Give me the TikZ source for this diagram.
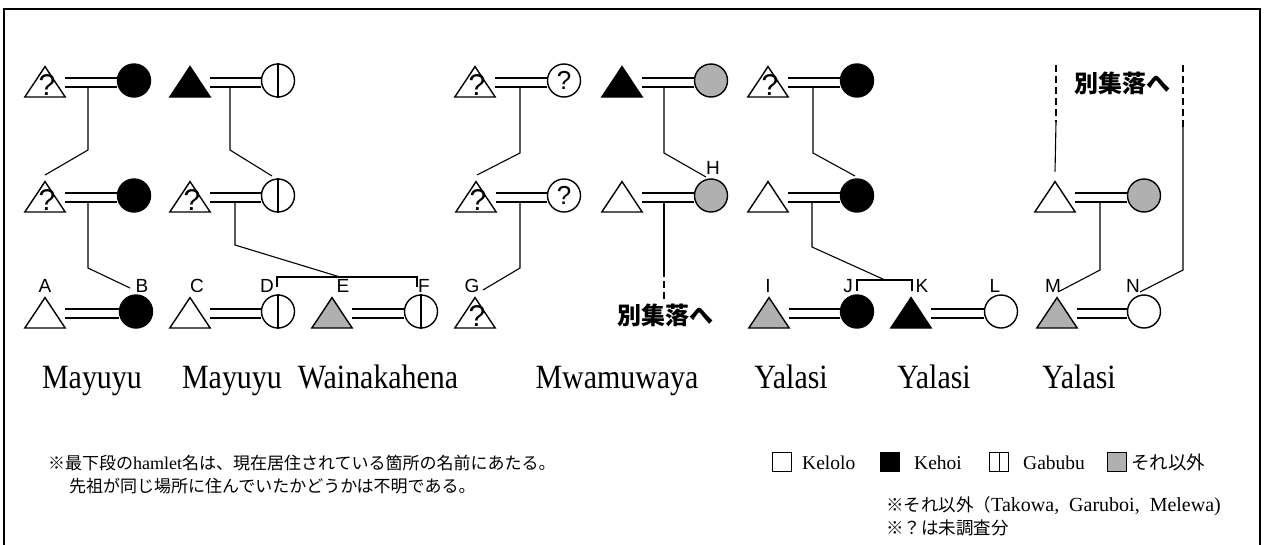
\documentclass[tikz,border=0pt]{standalone}
\usepackage{fontspec}
\setmainfont{Liberation Serif}
\newfontfamily\hamfont[FakeStretch=0.88]{Liberation Serif}
\newfontfamily\labfont{Liberation Sans}
\newfontfamily\cjk{Noto Sans CJK JP}
\usetikzlibrary{calc}
\tikzset{
  sym/.style={draw, line width=1.4pt, line join=miter},
  trinode/.style={inner sep=0pt, minimum width=40pt, minimum height=30pt, anchor=south},
  circ/.style={circle, draw, line width=1.4pt, minimum size=33pt, inner sep=0pt},
  link/.style={line width=1.1pt},
  dashlink/.style={line width=1.1pt, dash pattern=on 7pt off 4pt},
  dbl/.style={line width=1.6pt},
  qmark/.style={anchor=base, inner sep=0pt, font=\labfont\fontsize{30}{30}\selectfont},
  cqmark/.style={inner sep=0pt, font=\labfont\fontsize{26}{26}\selectfont},
  lbl/.style={inner sep=0pt, anchor=base, font=\labfont\fontsize{19}{19}\selectfont},
  hamlet/.style={inner sep=0pt, anchor=base, font=\hamfont\fontsize{34}{34}\selectfont},
  other/.style={inner sep=0pt, font=\cjk\bfseries\fontsize{24}{24}\selectfont},
  note/.style={inner sep=0pt, anchor=west, font=\cjk\fontsize{17}{17}\selectfont},
  legtext/.style={inner sep=0pt, anchor=west, font=\fontsize{19.5}{19.5}\selectfont},
  legbox/.style={draw, line width=1pt, minimum width=19pt, minimum height=19pt, inner sep=0pt},
  frame/.style={line width=1.8pt}
}
\colorlet{other}{gray!62}
\newcommand\Tri[4]{\node[trinode] (#1) at (#2,#3) {};
  \draw[sym, fill=#4] (#1.south west) -- (#1.south east) -- (#1.north) -- cycle;}
\newcommand\QTri[3]{\Tri{#1}{#2}{#3}{white}
  \node[qmark] (#1q) at ([xshift=2pt,yshift=2pt]#1.south) {?};}
\newcommand\Cir[4]{\node[circ, fill=#4] (#1) at (#2,#3) {};}
\newcommand\GCir[3]{\node[circ, fill=white] (#1) at (#2,#3) {};
  \draw[sym] (#1.north) -- (#1.south);}
\newcommand\QCir[3]{\node[circ, fill=white] (#1) at (#2,#3) {};
  \node[cqmark] (#1q) at (#1.center) {?};}
\newcommand\Marry[2]{\path ([yshift=19pt]#1.south east) coordinate (#1u)
  ([yshift=10pt]#1.south east) coordinate (#1l);
  \draw[dbl] (#1u) -- (#1u -| #2.west) (#1l) -- (#1l -| #2.west);}
\begin{document}
\begin{tikzpicture}[x=1pt,y=-1pt]
\useasboundingbox (0,0) rectangle (1265,544);
\draw[frame] (4,560) -- (4,9) -- (1260,9) -- (1260,560);

% ---------- row 1 ----------
\QTri{pa}{45}{97}      \Cir{pb}{134}{80.5}{black}   \Marry{pa}{pb}
\Tri{pc}{190}{97}{black} \GCir{pd}{278}{80.5}       \Marry{pc}{pd}
\QTri{pe}{475}{97}     \QCir{pf}{564}{80.5}         \Marry{pe}{pf}
\Tri{pg}{622}{97}{black} \Cir{ph}{711}{80.5}{other} \Marry{pg}{ph}
\QTri{pi}{768}{97}     \Cir{pj}{857}{80.5}{black}   \Marry{pi}{pj}

% ---------- row 2 ----------
\QTri{qa}{45}{212}     \Cir{qb}{134}{195.5}{black}  \Marry{qa}{qb}
\QTri{qc}{190}{212}    \GCir{qd}{278}{195.5}        \Marry{qc}{qd}
\QTri{qe}{476}{212}    \QCir{qf}{564}{195.5}        \Marry{qe}{qf}
\Tri{qg}{622}{212}{white} \Cir{qh}{711}{195.5}{other} \Marry{qg}{qh}
\Tri{qi}{768}{212}{white} \Cir{qj}{857}{195.5}{black} \Marry{qi}{qj}
\Tri{qk}{1055}{212}{white} \Cir{ql}{1144}{195.5}{other} \Marry{qk}{ql}

% ---------- row 3 ----------
\Tri{ra}{45}{328}{white}   \Cir{rb}{136}{311.5}{black}  \Marry{ra}{rb}
\Tri{rc}{190}{328}{white}  \GCir{rd}{278}{311.5}        \Marry{rc}{rd}
\Tri{re}{332}{328}{other}  \GCir{rf}{421}{311.5}        \Marry{re}{rf}
\QTri{rg}{475}{328}
\Tri{ri}{769}{328}{other}  \Cir{rj}{857}{311.5}{black}  \Marry{ri}{rj}
\Tri{rk}{911}{328}{black}  \Cir{rl}{1001}{311.5}{white} \Marry{rk}{rl}
\Tri{rm}{1057}{328}{other} \Cir{rn}{1144}{311.5}{white} \Marry{rm}{rn}

% ---------- letters ----------
\node[lbl] (lA) at (45,292) {A};
\node[lbl] (lB) at (142,292) {B};
\node[lbl] (lC) at (197,292) {C};
\node[lbl] (lD) at (267,292) {D};
\node[lbl] (lE) at (343,292) {E};
\node[lbl] (lF) at (424,292) {F};
\node[lbl] (lG) at (472,292) {G};
\node[lbl] (lH) at (713,174) {H};
\node[lbl] (lI) at (768,292) {I};
\node[lbl] (lJ) at (848,292) {J};
\node[lbl] (lK) at (922,292) {K};
\node[lbl] (lL) at (995,292) {L};
\node[lbl] (lM) at (1053,292) {M};
\node[lbl] (lN) at (1133,292) {N};

% ---------- descent lines row1 -> row2 ----------
\coordinate (d1) at (88,87);  \coordinate (e1) at (45,175);  \draw[link] (d1) -- (88,150) -- (e1);
\coordinate (d2) at (230,87); \coordinate (e2) at (272,176); \draw[link] (d2) -- (230,150) -- (e2);
\coordinate (d3) at (520,87); \coordinate (e3) at (477,175); \draw[link] (d3) -- (520,153) -- (e3);
\coordinate (d4) at (664,87); \coordinate (e4) at (706,177); \draw[link] (d4) -- (664,153) -- (e4);
\coordinate (d5) at (813,87); \coordinate (e5) at (855,176); \draw[link] (d5) -- (813,153) -- (e5);

% ---------- descent lines row2 -> row3 ----------
\coordinate (g1) at (88,202);   \coordinate (f1) at (130,288);  \draw[link] (g1) -- (88,268) -- (f1);
\coordinate (g2) at (235,202);  \coordinate (f2) at (340,277);  \draw[link] (g2) -- (235,245) -- (f2);
\coordinate (g3) at (520,202);  \coordinate (f3) at (483,290);  \draw[link] (g3) -- (520,268) -- (f3);
\coordinate (g4) at (664,202);  \coordinate (f4) at (664,270);  \draw[link] (g4) -- (f4);
\coordinate (f4b) at (664,300); \draw[dashlink] (f4) -- (f4b);
\coordinate (g5) at (812,202);  \coordinate (f5) at (885,280);  \draw[link] (g5) -- (812,247) -- (f5);
\coordinate (g6) at (1100,202); \coordinate (f6) at (1058,292); \draw[link] (g6) -- (1100,270) -- (f6);

% sibling brackets
\draw[link] (277,287) -- (277,277) -- (417,277) -- (417,287);
\draw[link] (857,291) -- (857,280) -- (912,280) -- (912,291);

% ---------- other hamlet (top right) ----------
\coordinate (t1a) at (1056,65); \coordinate (t1b) at (1056,122);
\draw[dashlink] (t1a) -- (t1b); \draw[link] (t1b) -- ([yshift=10pt]qk.north);
\coordinate (t2a) at (1183,65); \coordinate (t2b) at (1183,127);
\coordinate (t2c) at (1183,270); \coordinate (t2d) at (1140,292);
\draw[dashlink] (t2a) -- (t2b); \draw[link] (t2b) -- (t2c) -- (t2d);

\node[other] (bs1) at (665,315) {別集落へ};
\node[other] (bs2) at (1122,83) {別集落へ};

% ---------- hamlet names ----------
\node[hamlet] (h1) at (92,388) {Mayuyu};
\node[hamlet] (h2) at (232,388) {Mayuyu};
\node[hamlet] (h3) at (378,388) {Wainakahena};
\node[hamlet] (h4) at (617,388) {Mwamuwaya};
\node[hamlet] (h5) at (791,388) {Yalasi};
\node[hamlet] (h6) at (934,388) {Yalasi};
\node[hamlet] (h7) at (1079,388) {Yalasi};

% ---------- notes ----------
\node[note] (n1) at (48,463) {※最下段の{\rmfamily\fontsize{18}{18}\selectfont hamlet}名は、現在居住されている箇所の名前にあたる。};
\node[note] (n2) at (69,486) {先祖が同じ場所に住んでいたかどうかは不明である。};

% ---------- legend ----------
\node[legbox] (k1) at (782,462) {};
\node[legtext] (k1t) at (802,463) {Kelolo};
\node[legbox, fill=black] (k2) at (890,462) {};
\node[legtext] (k2t) at (914,463) {Kehoi};
\node[legbox] (k3) at (999,462) {};
\draw[line width=1pt] (k3.north) -- (k3.south);
\node[legtext] (k3t) at (1023,463) {Gabubu};
\node[legbox, fill=other] (k4) at (1117,462) {};
\node[legtext, font=\cjk\fontsize{18.5}{18.5}\selectfont] (k4t) at (1131,462) {それ以外};

\node[note, font=\cjk\fontsize{17.5}{17.5}\selectfont] (n3) at (886,506) {※それ以外（{\rmfamily\fontsize{20}{20}\selectfont Takowa,\ \ Garuboi,\ \ Melewa)}};
\node[note, font=\cjk\fontsize{17.5}{17.5}\selectfont] (n4) at (886,528) {※？は未調査分};
\end{tikzpicture}
\end{document}
